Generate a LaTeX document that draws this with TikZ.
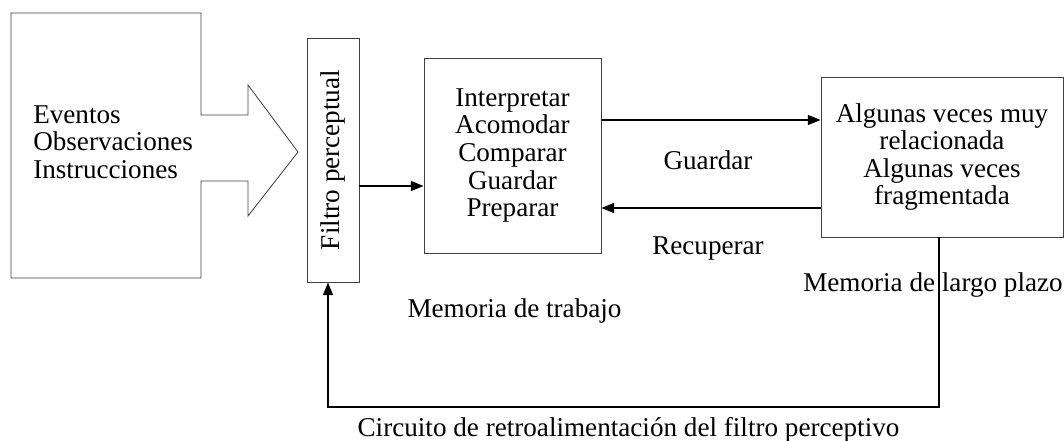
\documentclass[tikz,border=0pt]{standalone}
\usepackage{fontspec}
\setmainfont{Liberation Serif}
\usepackage{tikz}
\usetikzlibrary{arrows.meta,calc}
\tikzset{caja/.style={draw=black!75, line width=0.6pt, inner sep=0pt, align=center},
	flecha/.style={line width=1.3pt, -{Triangle[length=9pt,width=7pt]}}}
\begin{document}
\begin{tikzpicture}[node font=\fontsize{19.3}{19.6}\selectfont]
			\useasboundingbox (0,0) rectangle (26.6,11.025);
			\draw [black!75, line width=0.6pt] (0.275,10.7)-- (5.025,10.7)-- (5.025,8.15)-- (6.2,8.15)-- (6.2,8.9)-- (7.45,7.225)-- (6.2,5.625)-- (6.2,6.5)-- (5.025,6.5)-- (5.025,4.075)-- (0.275,4.075)-- cycle;
			\node [anchor=west, inner sep=0pt, align=left] (eventos) at (0.825,7.475) {Eventos\\Observaciones\\Instrucciones};
			\node [caja, minimum width=1.3cm, minimum height=6.1cm] (filtro) at (8.325,7.025) {\rotatebox{90}{Filtro perceptual}};
			\node [caja, minimum width=4.425cm, minimum height=4.875cm] (trabajo) at (12.8125,7.1375) {Interpretar\\Acomodar\\Comparar\\Guardar\\Preparar};
			\node [caja, minimum width=6.05cm, minimum height=4cm] (largo) at (23.55,7.1) {Algunas veces muy\\relacionada\\Algunas veces\\fragmentada};
			\coordinate (retro) at (0,0.85);
			\draw [flecha] (filtro.east |- 0,6.375)-- (trabajo.west |- 0,6.375);
			\draw [flecha] (trabajo.east |- 0,8.025)-- (largo.west |- 0,8.025);
			\draw [flecha] (largo.west |- 0,5.825)-- (trabajo.east |- 0,5.825);
			\draw [flecha] ([xshift=-0.075cm]largo.south)-- ([xshift=-0.075cm]largo.south |- retro) -| ([xshift=-0.125cm]filtro.south);
			\node [anchor=base] (guardar) at (17.7,6.775) {Guardar};
			\node [anchor=base] (recuperar) at (17.7,4.65) {Recuperar};
			\node [anchor=base] (memtrabajo) at (12.8625,3.075) {Memoria de trabajo};
			\node [anchor=base] (memlargo) at (23.325,3.725) {Memoria de largo plazo};
			\node [anchor=base] (circuito) at (15.7125,0.1) {Circuito de retroalimentación del filtro perceptivo};
		\end{tikzpicture}
\end{document}
